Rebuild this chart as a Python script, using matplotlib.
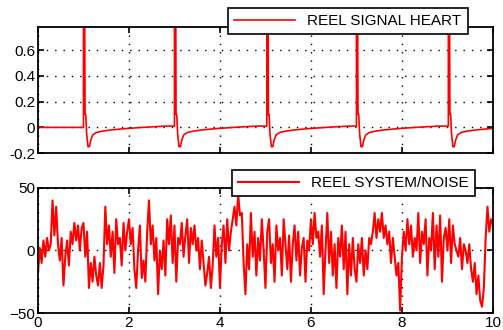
import numpy as np
import matplotlib
matplotlib.use("Agg")
import matplotlib.pyplot as plt

plt.rcParams['font.family'] = ['Liberation Sans', 'DejaVu Sans']

# --- top panel: heart signal, one beat shape ---
beat_times = [1.0, 3.0, 5.03, 7.0, 9.02]
beat_offsets = [0.0, 0.0, 0.025, 0.03, 0.035, 0.05, 0.07, 0.10, 0.13, 0.16, 0.20, 0.28, 0.40, 0.60, 0.90, 1.30, 1.80]
beat_values = [0.01, 1.2, 1.2, 0.55, 0.10, 0.10, -0.05, -0.15, -0.15, -0.10, -0.06, -0.04, -0.03, -0.02, -0.01, 0.0, 0.01]
shoulder = [0.55, 0.72, 0.68, 0.44, 0.47]

# --- bottom panel: system noise, sampled every 0.04 s ---
noise = [
    -18, 2, -10, 8, -5, 10, 0, 5, 40, 12, 35, 5, -8, 10, -28, -5, 8, -12, 15, 5, 22, 8, 20, 0, 18,
    22, -5, 15, -30, -10, -25, -5, -20, -28, -10, -30, -12, 35, 5, 20, -5, 15, -18, 25, 5, 10, -12, 22, 0, 15,
    25, 5, 18, -15, -30, 0, 20, -22, -8, -25, 15, 40, 5, 20, -8, 10, -35, 0, -15, 8, -20, 25, 5, 28, -10,
    20, -25, 10, 5, 22, -5, 12, 25, -10, 18, 5, 20, 0, 10, -15, 8, -10, -28, -18, -5, -30, -12, 20, -5, 10,
    -30, 5, 20, -10, 25, 0, 15, 25, 35, 20, 45, 28, 30, -10, -35, 5, -15, 30, -5, 15, -20, 10, -8, 25, 0,
    -30, 15, 25, -10, 5, -25, 20, 0, 10, -20, 25, 5, -15, 12, -25, 5, 20, -8, 15, -20, 2, 10, -25, 8, 0,
    25, 5, 30, 10, 15, -5, 20, -35, 0, 30, -10, 15, -20, 5, -30, 10, -5, 20, -15, 15, -35, 5, -20, 10, -15,
    -25, 5, -10, 10, -20, 0, -15, 10, 5, 15, 30, 10, 25, 15, 30, 10, 20, 5, 15, -10, 10, -5, -20, -10, -48,
    -5, 15, 0, 25, 5, 20, -5, 10, 0, 30, -10, 15, 5, 25, -20, 10, 0, 30, -15, 20, -5, 28, -25, 10, 18,
    0, 25, -10, 20, 5, 0, -5, 10, -15, 5, 0, -10, 5, -15, -25, -10, -35, -20, -40, -45, -30, 10, 35, 15, 25,
    20,
]
dt = 0.04

# build heart signal vertices
hx = [0.0, beat_times[0]]
hy = [0.0, 0.0]
for t0, sh in zip(beat_times, shoulder):
    vals = list(beat_values)
    vals[3] = sh
    for off, v in zip(beat_offsets, vals):
        hx.append(t0 + off)
        hy.append(v)
hx.append(10.0)
hy.append(-0.01)

nx = np.arange(len(noise)) * dt

fig = plt.figure(figsize=(5.03, 3.30), dpi=100)
ax1 = fig.add_axes([0.0755, 0.536, 0.9045, 0.382])
ax2 = fig.add_axes([0.0755, 0.0515, 0.9045, 0.379])

ax1.plot(hx, hy, color='#ff0000', lw=1.2, label='REEL SIGNAL HEART')
ax1.set_xlim(0, 10)
ax1.set_ylim(-0.2, 0.78)
ax1.set_yticks([-0.2, 0, 0.2, 0.4, 0.6])
ax1.set_yticklabels(['-0.2', '0', '0.2', '0.4', '0.6'])
ax1.set_xticks([0, 2, 4, 6, 8, 10])
ax1.set_xticklabels([])

ax2.plot(nx, noise, color='#ff0000', lw=1.5, label='REEL SYSTEM/NOISE')
ax2.set_xlim(0, 10)
ax2.set_ylim(-50, 50)
ax2.set_yticks([-50, 0, 50])
ax2.set_xticks([0, 2, 4, 6, 8, 10])
ax2.set_xticklabels(['0', '2', '4', '6', '8', '10'])

for ax in (ax1, ax2):
    ax.grid(True, color='black', linestyle=(0, (1, 5)), linewidth=1.0)
    ax.tick_params(direction='in', length=4, width=1.2, labelsize=11, pad=2,
                   top=True, right=True)
    for s in ax.spines.values():
        s.set_linewidth(1.3)

leg_kw = dict(loc='upper left', bbox_transform=fig.transFigure, borderaxespad=0,
              fancybox=False, framealpha=1, edgecolor='black', fontsize=11,
              handlelength=4.0, borderpad=0.4, handletextpad=0.8)
l1 = ax1.legend(bbox_to_anchor=(228 / 503, 1 - 8 / 330), **leg_kw)
l2 = ax2.legend(bbox_to_anchor=(232 / 503, 1 - 170 / 330), **leg_kw)
for l in (l1, l2):
    l.get_frame().set_linewidth(1.2)
    l.set_zorder(5)

fig.savefig('out.png', dpi=100)
